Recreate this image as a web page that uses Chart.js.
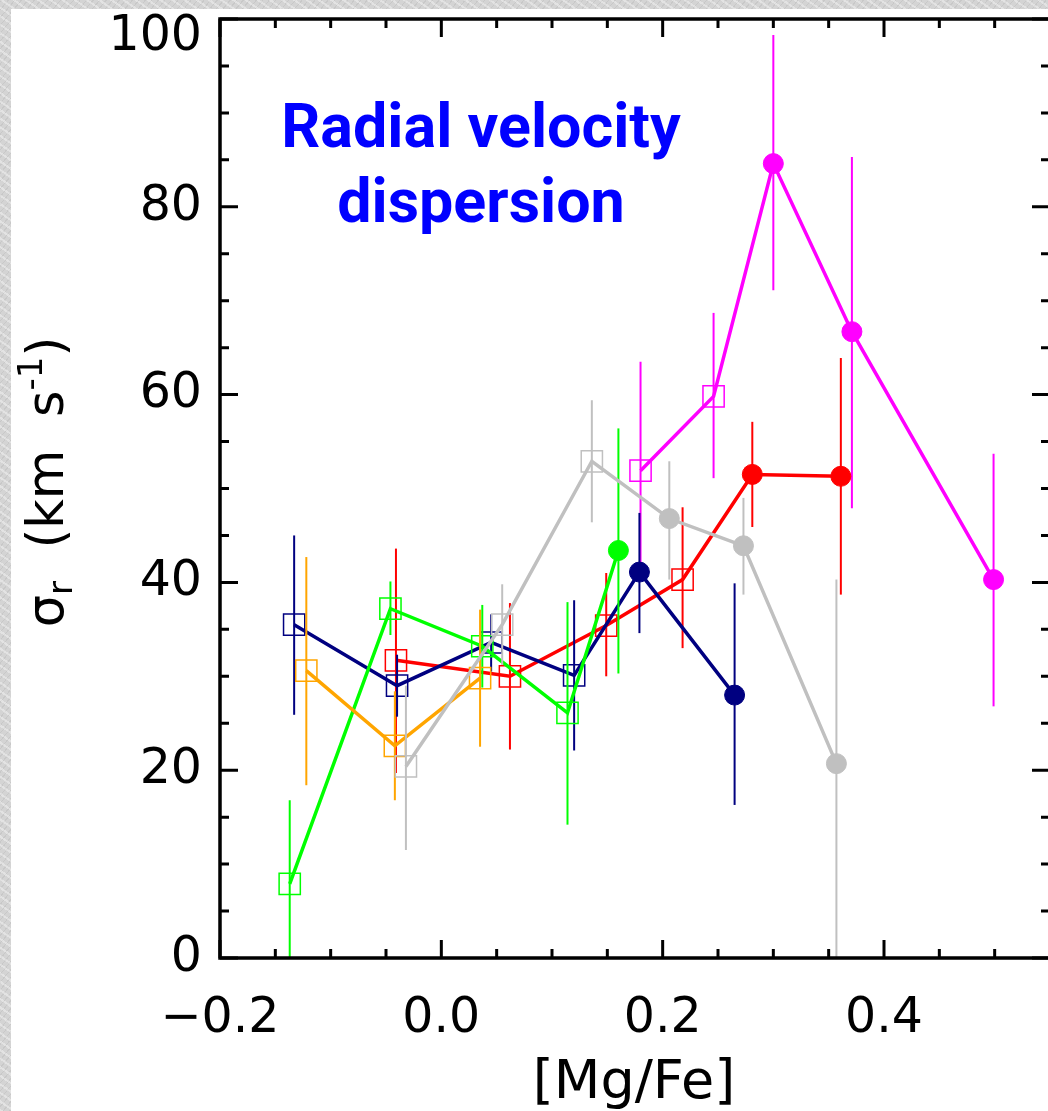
<!DOCTYPE html>
<html>
<head>
<meta charset="UTF-8">
<title>Radial velocity dispersion vs [Mg/Fe]</title>
<style>
	html, body { margin: 0; padding: 0; overflow: hidden; }
	body {
		width: 1048px;
		height: 1111px;
		background-color: #d4d4d4;
		background-image:
			repeating-linear-gradient(35deg, rgba(255,255,255,0.35) 0 2px, rgba(0,0,0,0) 2px 7px),
			repeating-linear-gradient(-50deg, rgba(0,0,0,0.06) 0 1px, rgba(0,0,0,0) 1px 5px);
	}
	.panel { position: absolute; left: 11px; top: 9px; right: 0; bottom: 0; background: #fff; }
	#myChart { position: absolute; left: 0; top: 0; }
</style>
<script src="https://cdn.jsdelivr.net/npm/chart.js@4/dist/chart.umd.min.js"></script>
</head>
<body>
<div class="panel"></div>
<canvas id="myChart" width="1052" height="1111"></canvas>

<script type="text/javascript">
	// axis ranges
	var xMin = -0.2, xMax = 0.55;
	var yMin = 0, yMax = 100;

	// one group per sample: [Mg/Fe], sigma_r, error bar ends, open square (0) / filled dot (1)
	var navyX = [-0.133, -0.040, 0.045, 0.120, 0.179, 0.265];
	var navyY = [35.5, 29.0, 33.6, 30.1, 41.1, 28.0];
	var navyLo = [25.9, 25.7, 30.5, 22.1, 34.6, 16.3];
	var navyHi = [45.0, 32.3, 36.6, 38.1, 47.4, 39.9];
	var navyFilled = [0, 0, 0, 0, 1, 1];

	var orangeX = [-0.122, -0.042, 0.035];
	var orangeY = [30.6, 22.6, 29.8];
	var orangeLo = [18.4, 16.8, 22.5];
	var orangeHi = [42.7, 28.4, 37.1];
	var orangeFilled = [0, 0, 0];

	var greenX = [-0.137, -0.046, 0.037, 0.114, 0.160];
	var greenY = [7.9, 37.2, 33.2, 26.1, 43.4];
	var greenLo = [-1.0, 34.4, 28.8, 14.2, 30.3];
	var greenHi = [16.8, 40.1, 37.6, 37.9, 56.4];
	var greenFilled = [0, 0, 0, 0, 1];

	var grayX = [-0.032, 0.055, 0.136, 0.206, 0.273, 0.357];
	var grayY = [20.4, 35.5, 52.9, 46.8, 43.9, 20.7];
	var grayLo = [11.5, 31.2, 46.4, 40.3, 38.7, -1.0];
	var grayHi = [29.0, 39.8, 59.4, 52.9, 49.0, 40.3];
	var grayFilled = [0, 0, 0, 1, 1, 1];

	var redX = [-0.041, 0.062, 0.149, 0.218, 0.281, 0.361];
	var redY = [31.7, 30.0, 35.4, 40.3, 51.5, 51.3];
	var redLo = [19.7, 22.2, 30.0, 33.0, 45.9, 38.7];
	var redHi = [43.6, 37.8, 41.0, 48.0, 57.1, 63.9];
	var redFilled = [0, 0, 0, 0, 1, 1];

	var magentaX = [0.180, 0.246, 0.300, 0.371, 0.499];
	var magentaY = [51.9, 59.8, 84.6, 66.7, 40.3];
	var magentaLo = [40.6, 51.1, 71.1, 47.9, 26.8];
	var magentaHi = [63.5, 68.7, 98.3, 85.3, 53.7];
	var magentaFilled = [0, 0, 1, 1, 1];

	function series(label, color, xs, ys, lo, hi, filled) {
		return {
			label: label,
			data: xs.map(function(x, i) { return { x: x, y: ys[i] }; }),
			errLo: lo,
			errHi: hi,
			showLine: true,
			borderColor: color,
			borderWidth: 3.5,
			tension: 0,
			pointStyle: filled.map(function(f) { return f ? 'circle' : 'rect'; }),
			pointRadius: filled.map(function(f) { return f ? 10 : 15; }),
			pointBackgroundColor: filled.map(function(f) { return f ? color : 'rgba(0,0,0,0)'; }),
			pointBorderColor: color,
			pointBorderWidth: filled.map(function(f) { return f ? 1 : 1.5; })
		};
	}

	// vertical error bars, drawn right after their own dataset
	var errorBars = {
		id: 'errorBars',
		afterDatasetDraw: function(chart, args) {
			var ds = chart.data.datasets[args.index];
			var xs = chart.scales.x, ys = chart.scales.y, a = chart.chartArea, ctx = chart.ctx;
			ctx.save();
			ctx.beginPath();
			ctx.rect(a.left, a.top, a.right - a.left, a.bottom - a.top);
			ctx.clip();
			ctx.strokeStyle = ds.borderColor;
			ctx.lineWidth = 2;
			ds.data.forEach(function(p, i) {
				var px = xs.getPixelForValue(p.x);
				ctx.beginPath();
				ctx.moveTo(px, ys.getPixelForValue(ds.errLo[i]));
				ctx.lineTo(px, ys.getPixelForValue(ds.errHi[i]));
				ctx.stroke();
			});
			ctx.restore();
		}
	};

	// box, inward ticks and the texts
	var frame = {
		id: 'frame',
		afterDraw: function(chart) {
			var ctx = chart.ctx, a = chart.chartArea, xs = chart.scales.x, ys = chart.scales.y;
			var k, v, p, len;
			ctx.save();
			ctx.strokeStyle = '#000';
			ctx.lineWidth = 3.5;
			ctx.strokeRect(a.left, a.top, a.right - a.left, a.bottom - a.top);

			ctx.lineWidth = 3;
			ctx.beginPath();
			for (k = 0; k <= 15; k++) {
				v = xMin + k * 0.05;
				p = xs.getPixelForValue(v);
				len = (k % 4 === 0) ? 18 : 9;
				ctx.moveTo(p, a.bottom); ctx.lineTo(p, a.bottom - len);
				ctx.moveTo(p, a.top); ctx.lineTo(p, a.top + len);
			}
			for (k = 0; k <= 20; k++) {
				v = yMin + k * 5;
				p = ys.getPixelForValue(v);
				len = (k % 4 === 0) ? 18 : 9;
				ctx.moveTo(a.left, p); ctx.lineTo(a.left + len, p);
				ctx.moveTo(a.right, p); ctx.lineTo(a.right - len, p);
			}
			ctx.stroke();

			// top y label sits a little below its tick, as in the original
			ctx.fillStyle = '#000';
			ctx.font = '49px "DejaVu Sans"';
			ctx.textAlign = 'right';
			ctx.textBaseline = 'middle';
			ctx.fillText(String(yMax), a.left - 18, ys.getPixelForValue(yMax) + 18);

			// plot label
			ctx.fillStyle = '#0000ff';
			ctx.font = 'bold 61px Roboto';
			ctx.textAlign = 'center';
			ctx.textBaseline = 'alphabetic';
			ctx.fillText('Radial velocity', 481, 147);
			ctx.fillText('dispersion', 481, 222);

			// x title
			ctx.fillStyle = '#000';
			ctx.font = '54px "DejaVu Sans"';
			ctx.fillText('[Mg/Fe]', 634, 1098);

			// y title with sub/superscript
			var big = '51px "DejaVu Sans"', small = '34px "DejaVu Sans"';
			var parts = [
				{ t: '\u03c3', f: big, dy: 0 },
				{ t: 'r', f: small, dy: 9 },
				{ t: '  (km  s', f: big, dy: 0 },
				{ t: '-1', f: small, dy: -21 },
				{ t: ')', f: big, dy: 0 }
			];
			var total = 0;
			parts.forEach(function(q) { ctx.font = q.f; q.w = ctx.measureText(q.t).width; total += q.w; });
			ctx.translate(63, 482 + total / 2);
			ctx.rotate(-Math.PI / 2);
			ctx.textAlign = 'left';
			var cx = 0;
			parts.forEach(function(q) { ctx.font = q.f; ctx.fillText(q.t, cx, q.dy); cx += q.w; });
			ctx.restore();
		}
	};

	var tickFont = { family: 'DejaVu Sans', size: 49 };

	var ctx = document.getElementById('myChart').getContext('2d');
	var myChart = new Chart(ctx, {
		type: 'scatter',
		data: {
			datasets: [
				series('gray', '#c0c0c0', grayX, grayY, grayLo, grayHi, grayFilled),
				series('orange', '#ffa500', orangeX, orangeY, orangeLo, orangeHi, orangeFilled),
				series('green', '#00ff00', greenX, greenY, greenLo, greenHi, greenFilled),
				series('navy', '#000080', navyX, navyY, navyLo, navyHi, navyFilled),
				series('red', '#ff0000', redX, redY, redLo, redHi, redFilled),
				series('magenta', '#ff00ff', magentaX, magentaY, magentaLo, magentaHi, magentaFilled)
			]
		},
		options: {
			responsive: false,
			animation: false,
			devicePixelRatio: 1,
			layout: { autoPadding: false, padding: { top: 19, right: 2, left: 0, bottom: 0 } },
			plugins: { legend: { display: false }, tooltip: { enabled: false } },
			scales: {
				x: {
					type: 'linear', min: xMin, max: xMax,
					grid: { display: false, drawTicks: false },
					border: { display: false },
					ticks: {
						stepSize: 0.2, includeBounds: false, autoSkip: false, maxRotation: 0,
						padding: 32, color: '#000', font: tickFont,
						callback: function(v) {
							if (Math.abs(v) < 1e-9) v = 0;
							return v.toFixed(1).replace('-', '\u2212');
						}
					},
					afterFit: function(s) {
						s.height = 153;
						s.paddingLeft = 0; s.paddingRight = 0;
					}
				},
				y: {
					min: yMin, max: yMax,
					grid: { display: false, drawTicks: false },
					border: { display: false },
					ticks: {
						stepSize: 20, autoSkip: false, padding: 18, color: '#000', font: tickFont,
						// 100 is drawn by the frame plugin
						callback: function(v) { return v >= yMax ? '' : String(v); }
					},
					afterFit: function(s) {
						s.width = 220;
						s.paddingTop = 0; s.paddingBottom = 0;
					}
				}
			}
		},
		plugins: [errorBars, frame]
	});
</script>
</body>
</html>
